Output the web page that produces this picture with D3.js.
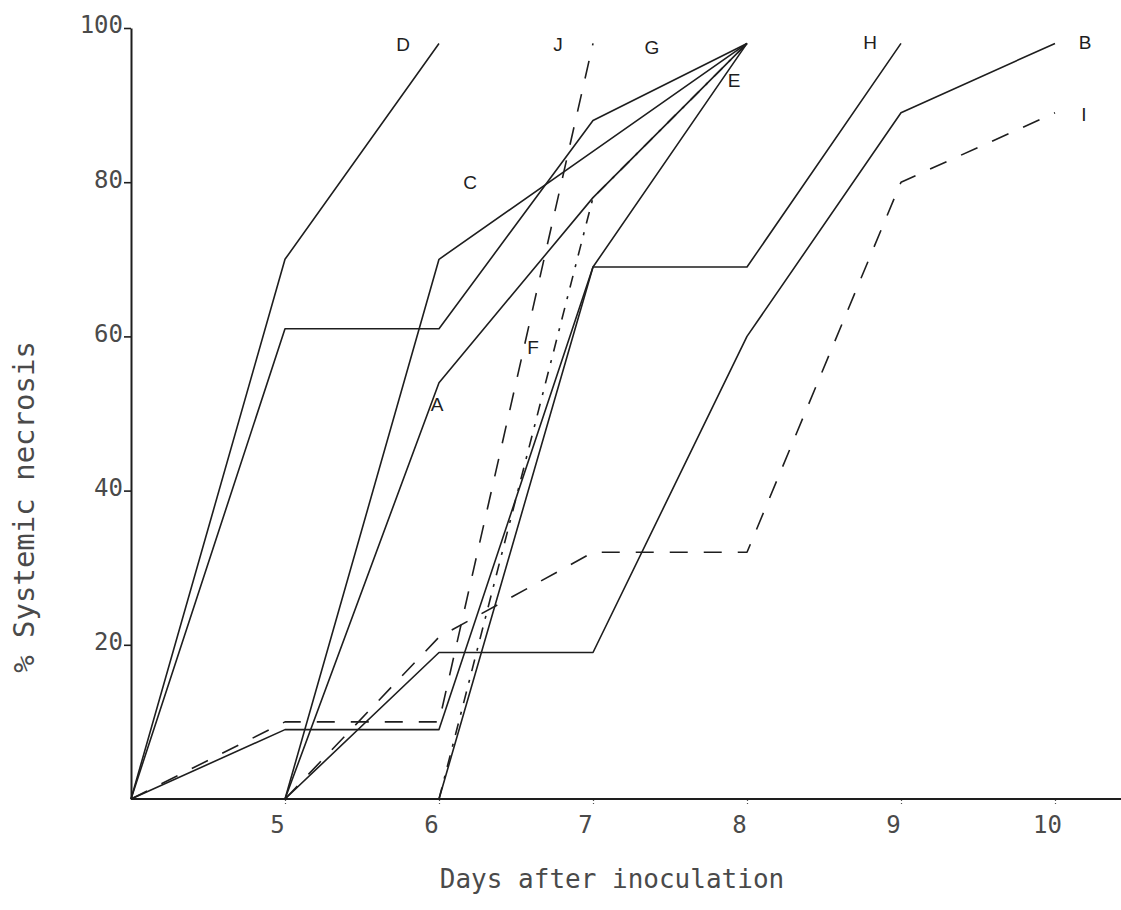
<!DOCTYPE html>
<html>
<head>
<meta charset="utf-8">
<script src="https://cdn.jsdelivr.net/npm/d3@7"></script>
<style>
  body { margin: 0; background: #fff; }
  svg { display: block; }
</style>
</head>
<body>
<div id="chart"></div>
<script>
// values: [day, % systemic necrosis]
const lineA = [[5, 0], [6, 54], [7, 78], [8, 98]];
const lineB = [[5, 0], [6, 19], [7, 19], [8, 60], [9, 89], [10, 98]];
const lineC = [[5, 0], [6, 70], [7, 84], [8, 98]];
const lineD = [[4, 0], [5, 70], [6, 98]];
const lineE = [[4, 0], [5, 9], [6, 9], [7, 69], [8, 98]];
const lineF = [[6, 0], [7, 78], [8, 98]];
const lineG = [[4, 0], [5, 61], [6, 61], [7, 88], [8, 98]];
const lineH = [[6, 0], [7, 69], [8, 69], [9, 98]];
const lineI = [[5, 0], [6, 21], [7, 32], [8, 32], [9, 80], [10, 89]];
const lineJ = [[4, 0], [5, 10], [6, 10], [7, 98]];

const seriesNames = ["A", "B", "C", "D", "E", "F", "G", "H", "I", "J"];
const xTicks = [5, 6, 7, 8, 9, 10];
const yTicks = [20, 40, 60, 80, 100];

const chart = {};

chart.width = 1121;
chart.height = 910;

chart.lines = {
    A: lineA, B: lineB, C: lineC, D: lineD, E: lineE,
    F: lineF, G: lineG, H: lineH, I: lineI, J: lineJ
};

// dash patterns per series (solid when missing)
chart.dash = {
    F: "12,9,3,9",
    I: "18,16",
    J: "18,16"
};

// where each letter sits: anchor point of its own line plus a pixel nudge
chart.labelAt = {
    A: {p: [6, 54], dx: -2, dy: 28},
    B: {p: [10, 98], dx: 30, dy: 6},
    C: {p: [6, 70], dx: 31, dy: -70},
    D: {p: [6, 98], dx: -36, dy: 8},
    E: {p: [8, 98], dx: -13, dy: 44},
    F: {p: [7, 78], dx: -60, dy: 156},
    G: {p: [8, 98], dx: -95, dy: 11},
    H: {p: [9, 98], dx: -31, dy: 6},
    I: {p: [10, 89], dx: 29, dy: 8},
    J: {p: [7, 98], dx: -35, dy: 8}
};

const svg = d3.select("#chart").append("svg")
    .attr("width", chart.width)
    .attr("height", chart.height);

svg.append("rect")
    .attr("width", chart.width)
    .attr("height", chart.height)
    .attr("fill", "#fff");

const x = d3.scaleLinear().domain([4, 10]).range([131, 1055]);
const y = d3.scaleLinear().domain([0, 100]).range([799, 28]);

const ink = "#1e1e1e";
const soft = "#4a4a4a";
const mono = "'DejaVu Sans Mono', monospace";

// y axis
const yAxis = svg.append("g")
    .attr("transform", "translate(" + x(4) + ",0)")
    .call(d3.axisLeft(y).tickValues(yTicks).tickSize(7).tickPadding(1).tickSizeOuter(0));
yAxis.select(".domain").attr("stroke", ink).attr("stroke-width", 2);
yAxis.selectAll(".tick line").attr("stroke", ink).attr("stroke-width", 1.6);
yAxis.selectAll(".tick text")
    .attr("fill", soft)
    .style("font-family", mono)
    .style("font-size", "24px")
    .attr("dy", "0.2em");

// x axis
const xAxis = svg.append("g")
    .attr("transform", "translate(0," + y(0) + ")")
    .call(d3.axisBottom(x).tickValues(xTicks).tickFormat(d3.format("d"))
        .tickSize(5).tickPadding(12).tickSizeOuter(0));
xAxis.select(".domain").remove();
xAxis.append("line")
    .attr("x1", x(4)).attr("x2", chart.width)
    .attr("y1", 0).attr("y2", 0)
    .attr("stroke", ink).attr("stroke-width", 2);
xAxis.selectAll(".tick line")
    .attr("stroke", "#555").attr("stroke-width", 1.2)
    .attr("stroke-dasharray", "2,2");
xAxis.selectAll(".tick text")
    .attr("fill", soft)
    .attr("dx", -8)
    .style("font-family", mono)
    .style("font-size", "24px");

// axis titles
svg.append("text")
    .attr("transform", "translate(34," + 507 + ") rotate(-90)")
    .attr("text-anchor", "middle")
    .attr("fill", soft)
    .style("font-family", mono)
    .style("font-size", "29px")
    .text("% Systemic necrosis");

svg.append("text")
    .attr("x", 612)
    .attr("y", 888)
    .attr("text-anchor", "middle")
    .attr("fill", soft)
    .style("font-family", mono)
    .style("font-size", "26px")
    .text("Days after inoculation");

// the ten curves
const lineMaker = d3.line()
    .x(d => x(d[0]))
    .y(d => y(d[1]));

svg.append("g")
    .selectAll("path")
    .data(seriesNames)
    .join("path")
    .attr("d", k => lineMaker(chart.lines[k]))
    .attr("fill", "none")
    .attr("stroke", ink)
    .attr("stroke-width", 1.6)
    .attr("stroke-linejoin", "round")
    .attr("stroke-dasharray", k => chart.dash[k] || null);

// curve letters
svg.append("g")
    .selectAll("text")
    .data(seriesNames)
    .join("text")
    .attr("x", k => x(chart.labelAt[k].p[0]) + chart.labelAt[k].dx)
    .attr("y", k => y(chart.labelAt[k].p[1]) + chart.labelAt[k].dy)
    .attr("text-anchor", "middle")
    .attr("fill", ink)
    .style("font-family", "'Liberation Sans', sans-serif")
    .style("font-size", "19px")
    .text(k => k);
</script>
</body>
</html>
